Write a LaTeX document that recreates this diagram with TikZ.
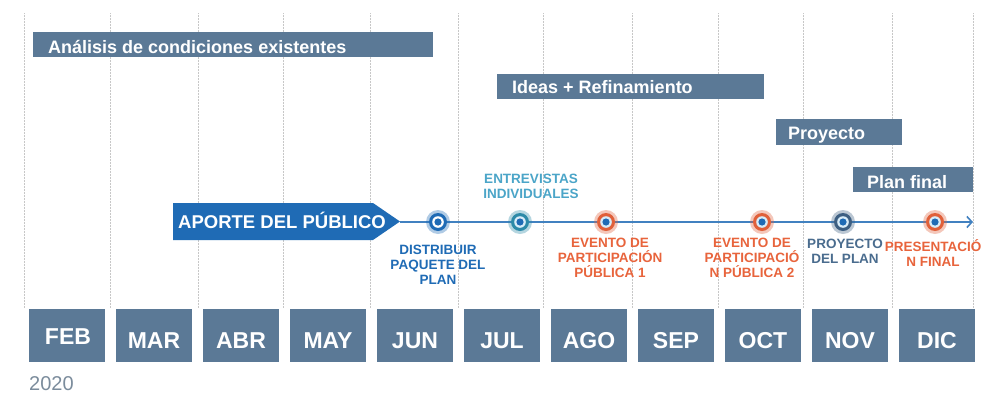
\documentclass[tikz,border=0pt]{standalone}
\usepackage{fontspec}
\setmainfont{Liberation Sans}
\usetikzlibrary{arrows.meta}
\definecolor{barc}{HTML}{5B7996}
\definecolor{mainblue}{HTML}{1F6BB5}
\definecolor{tealc}{HTML}{4BA5C8}
\definecolor{tealdark}{HTML}{2D8AA8}
\definecolor{orangec}{HTML}{E8643C}
\definecolor{orangedark}{HTML}{E0603A}
\definecolor{slatec}{HTML}{4A6C8E}
\definecolor{slatedark}{HTML}{3D5F82}
\definecolor{yearc}{HTML}{7B8C9C}
\definecolor{ringc}{HTML}{D8ECF8}
\begin{document}
\begin{tikzpicture}[x=1pt,y=-1pt,
  grid/.style={draw=black!22, line width=0.7pt, dash pattern=on 0.7pt off 0.8pt},
  barbox/.style={fill=barc, draw=none, rectangle, inner sep=0pt, anchor=north west},
  bartext/.style={text=white, font=\bfseries\fontsize{18}{21}\selectfont, anchor=base west, inner sep=0pt},
  monthbox/.style={fill=barc, draw=none, rectangle, inner sep=0pt, anchor=north west, minimum width=76pt, minimum height=53pt},
  monthtext/.style={text=white, font=\bfseries\fontsize{23}{27}\selectfont, anchor=base, inner sep=0pt},
  lbl/.style={font=\bfseries\fontsize{13.5}{15}\selectfont, align=center, anchor=base, inner sep=0pt},
  tl/.style={draw=mainblue!85!white, line width=1.7pt, -{Straight Barb[length=5pt,width=11pt,line width=1.6pt]}},
  mk/.style={circle, inner sep=0pt, minimum size=18pt, draw=none}
]
\useasboundingbox (0,0) rectangle (997,402);
\fill[white] (0,0) rectangle (997,402);

% gridlines
\foreach \x in {24,110,198,283,370,458,543,632,718,803,892,973}
  \draw[grid] (\x,13) -- (\x,308);

% phase bars
\node[barbox, minimum width=400pt, minimum height=25pt] (b1) at (33,32) {};
\node[bartext] (t1) at (48,53) {Análisis de condiciones existentes};
\node[barbox, minimum width=267pt, minimum height=25pt] (b2) at (497,74) {};
\node[bartext] (t2) at (512,93) {Ideas + Refinamiento};
\node[barbox, minimum width=126pt, minimum height=26pt] (b3) at (776,119) {};
\node[bartext] (t3) at (788,139) {Proyecto};
\node[barbox, minimum width=120pt, minimum height=25pt] (b4) at (853,167) {};
\node[bartext] (t4) at (867,188) {Plan final};

% aporte del publico arrow
\fill[mainblue] (173,203) -- (373,203) -- (400,221.5) -- (373,240) -- (173,240) -- cycle;
\node[text=white, font=\bfseries\fontsize{18.5}{22}\selectfont, anchor=base west, inner sep=0pt] (aporte) at (178,228.3) {APORTE DEL PÚBLICO};
\coordinate (tip) at (400,222);
\coordinate (tlend) at (973,222);
\draw[tl] (tip) -- (tlend);

% markers
\newcommand\mymarker[4]{%
  \fill[#4, opacity=0.35] (#2,222) circle (12pt);
  \node[mk, fill=#4] (#1) at (#2,222) {};
  \fill[#3] (#1) circle (5.8pt);
  \fill[mainblue] (#1) circle (3.6pt);
}
\mymarker{m1}{438}{white}{mainblue}
\mymarker{m2}{520}{ringc}{tealdark}
\mymarker{m3}{606}{ringc}{orangedark}
\mymarker{m4}{762}{ringc}{orangedark}
\mymarker{m5}{843}{ringc}{slatedark}
\mymarker{m6}{935}{ringc}{orangedark}

% labels (base anchor = baseline of last line)
\node[lbl, text=mainblue] (l1) at (438,284.5) {DISTRIBUIR\\PAQUETE DEL\\PLAN};
\node[lbl, text=tealc] (l2) at (531,198) {ENTREVISTAS\\INDIVIDUALES};
\node[lbl, text=orangec] (l3) at (610,277.5) {EVENTO DE\\PARTICIPACIÓN\\PÚBLICA 1};
\node[lbl, text=orangec] (l4) at (752,277.5) {EVENTO DE\\PARTICIPACIÓ\\N PÚBLICA 2};
\node[lbl, text=slatec] (l5) at (845,263) {PROYECTO\\DEL PLAN};
\node[lbl, text=orangec] (l6) at (933,266) {PRESENTACIÓ\\N FINAL};

% months
\foreach \m [count=\i from 0] in {FEB,MAR,ABR,MAY,JUN,JUL,AGO,SEP,OCT,NOV,DIC} {
  \node[monthbox] (mb\i) at (29+87*\i,309) {};
}
\foreach \m [count=\i from 0] in {FEB,MAR,ABR,MAY,JUN,JUL,AGO,SEP,OCT,NOV,DIC} {
  \ifnum\i=0
    \node[monthtext] (mt\i) at (68+87*\i,344) {\m};
  \else
    \node[monthtext] (mt\i) at (67+87*\i,348) {\m};
  \fi
}
\node[text=yearc, font=\fontsize{20}{24}\selectfont, anchor=base west, inner sep=0pt] (year) at (29,390) {2020};
\end{tikzpicture}
\end{document}
